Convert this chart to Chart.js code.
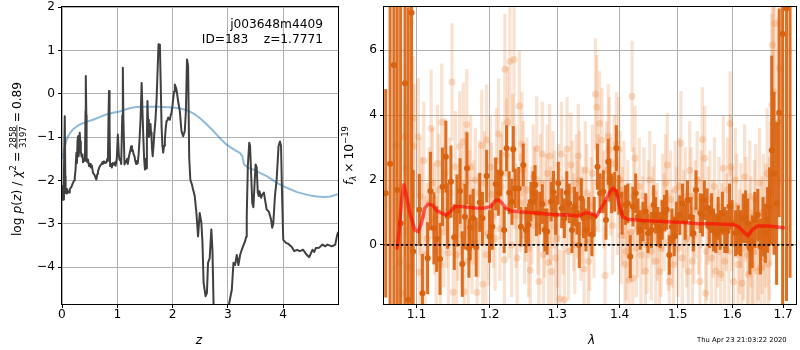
<!DOCTYPE html>
<html>
<head>
<meta charset="utf-8">
<script src="https://cdn.jsdelivr.net/npm/chart.js@4.4.0/dist/chart.umd.min.js"></script>
<style>
  html, body { margin: 0; padding: 0; background: #fff; }
  #wrap { position: relative; width: 800px; height: 350px; }
  #wrap canvas { position: absolute; left: 0; top: 0; }
</style>
</head>
<body>
<div id="wrap">
  <canvas id="pzChart" width="800" height="350"></canvas>
  <canvas id="specChart" width="800" height="350"></canvas>
</div>
<script>
// ---- p(z) panel ----
const zGrid = [
  0.00, 0.01, 0.02, 0.035, 0.05, 0.06, 0.065, 0.08, 0.09, 0.11,
  0.13, 0.14, 0.17, 0.20, 0.22, 0.23, 0.245, 0.26, 0.27, 0.28,
  0.29, 0.30, 0.31, 0.32, 0.33, 0.34, 0.355, 0.37, 0.38, 0.40,
  0.415, 0.425, 0.43, 0.44, 0.445, 0.46, 0.47, 0.49, 0.51, 0.52,
  0.54, 0.56, 0.59, 0.62, 0.64, 0.65, 0.67, 0.69, 0.71, 0.73,
  0.74, 0.76, 0.78, 0.80, 0.82, 0.83, 0.84, 0.85, 0.86, 0.87,
  0.89, 0.90, 0.92, 0.94, 0.96, 0.97, 0.99, 1.01, 1.03, 1.04,
  1.06, 1.07, 1.09, 1.10, 1.11, 1.13, 1.15, 1.16, 1.18, 1.19,
  1.21, 1.225, 1.24, 1.25, 1.265, 1.28, 1.295, 1.31, 1.325, 1.34,
  1.355, 1.37, 1.385, 1.40, 1.42, 1.44, 1.455, 1.47, 1.485, 1.50,
  1.52, 1.535, 1.545, 1.555, 1.57, 1.585, 1.60, 1.61, 1.62, 1.63,
  1.64, 1.655, 1.67, 1.69, 1.71, 1.73, 1.745, 1.77, 1.785, 1.80,
  1.815, 1.83, 1.845, 1.86, 1.875, 1.89, 1.905, 1.92, 1.935, 1.95,
  1.965, 1.98, 1.995, 2.01, 2.025, 2.04, 2.07, 2.10, 2.13, 2.16,
  2.19, 2.22, 2.24, 2.26, 2.28, 2.30, 2.32, 2.35, 2.37, 2.40,
  2.43, 2.46, 2.49, 2.52, 2.54, 2.56, 2.595, 2.62, 2.64, 2.67,
  2.70, 2.72, 2.74, 2.78, 2.90, 3.00, 3.02, 3.07, 3.10, 3.13,
  3.16, 3.19, 3.22, 3.25, 3.28, 3.31, 3.33, 3.34, 3.36, 3.385,
  3.40, 3.44, 3.46, 3.50, 3.52, 3.54, 3.56, 3.57, 3.60, 3.62,
  3.65, 3.70, 3.74, 3.78, 3.80, 3.82, 3.85, 3.88, 3.915, 3.94,
  3.96, 3.98, 4.00, 4.05, 4.10, 4.15, 4.20, 4.25, 4.30, 4.36,
  4.42, 4.47, 4.50, 4.53, 4.56, 4.59, 4.65, 4.71, 4.76, 4.80,
  4.88, 4.94, 4.97, 4.99
];
const logPz = [
  -2.45, -2.13, -2.44, -1.90, -0.52, -1.90, -2.29, -2.20, -2.30, -2.25,
  -2.28, -2.20, -2.15, -2.05, -2.00, -1.94, -1.75, -1.36, -1.60, -1.10,
  -0.98, -1.44, -1.30, -0.90, -1.10, -1.33, -1.45, -1.40, -1.58, -1.50,
  -1.55, -0.40, 0.41, -0.50, -1.52, -1.58, -1.52, -1.67, -1.62, -1.70,
  -1.66, -1.82, -1.88, -1.98, -1.85, -1.80, -1.71, -1.66, -1.63, -1.58,
  -1.62, -1.56, -1.60, -1.59, -1.50, -1.55, -0.60, 0.06, -0.80, -1.67,
  -1.62, -1.70, -1.60, -1.64, -1.58, -1.66, -1.50, -0.94, -1.45, -1.52,
  -1.55, -1.62, -0.50, 0.60, -0.60, -1.63, -1.55, -1.58, -1.50, -1.62,
  -1.45, -1.36, -1.28, -1.21, -1.32, -1.30, -1.40, -1.44, -1.55, -1.62,
  -1.55, -1.60, -1.40, -1.10, -0.60, 0.25, -0.40, -1.00, -1.50, -1.75,
  -1.72, -1.00, -0.17, -0.60, -1.00, -0.85, -0.70, -0.90, -1.06, -1.30,
  -1.44, -1.20, -0.90, -0.60, -0.13, 0.60, 1.14, 1.13, 0.20, -0.75,
  -1.20, -1.36, -1.20, -1.05, -0.80, -0.63, -0.62, -0.55, -0.58, -0.60,
  -0.50, -0.44, -0.30, -0.13, 0.05, 0.21, 0.10, -0.18, -0.40, -0.86,
  -0.98, -0.86, -0.40, 0.79, 0.64, -1.48, -1.98, -2.10, -2.21, -2.36,
  -2.75, -3.29, -2.75, -2.98, -3.44, -4.36, -4.67, -4.60, -3.90, -3.80,
  -3.13, -3.60, -4.85, -5.60, -6.00, -5.40, -4.85, -4.52, -3.90, -3.95,
  -3.72, -3.95, -3.72, -3.60, -3.50, -3.40, -3.30, -2.83, -1.67, -1.13,
  -1.20, -2.52, -2.62, -1.63, -1.70, -2.29, -2.36, -2.25, -2.40, -2.33,
  -2.28, -2.67, -2.72, -2.90, -3.09, -3.00, -2.36, -2.00, -1.21, -1.10,
  -1.20, -2.40, -3.37, -3.44, -3.47, -3.53, -3.63, -3.60, -3.63, -3.60,
  -3.71, -3.77, -3.68, -3.60, -3.65, -3.56, -3.55, -3.48, -3.52, -3.48,
  -3.52, -3.48, -3.29, -3.20
];
// smooth prior curve
const zPrior = [
  0.00, 0.02, 0.05, 0.08, 0.11, 0.15, 0.20, 0.26, 0.32, 0.44,
  0.56, 0.68, 0.80, 0.92, 1.04, 1.16, 1.28, 1.40, 1.52, 1.64,
  1.77, 1.90, 2.01, 2.14, 2.26, 2.38, 2.49, 2.61, 2.73, 2.85,
  2.97, 3.06, 3.15, 3.22, 3.26, 3.29, 3.34, 3.39, 3.48, 3.57,
  3.70, 3.80, 3.89, 3.98, 4.07, 4.16, 4.25, 4.37, 4.49, 4.61,
  4.73, 4.85, 4.99
];
const logPrior = [
  -1.50, -1.40, -1.24, -1.08, -0.98, -0.90, -0.82, -0.76, -0.71, -0.65,
  -0.60, -0.54, -0.48, -0.44, -0.41, -0.36, -0.32, -0.30, -0.30, -0.30,
  -0.30, -0.31, -0.32, -0.34, -0.38, -0.46, -0.56, -0.70, -0.85, -1.02,
  -1.17, -1.25, -1.32, -1.37, -1.44, -1.63, -1.68, -1.72, -1.76, -1.82,
  -1.90, -1.98, -2.06, -2.12, -2.17, -2.22, -2.27, -2.31, -2.35, -2.37,
  -2.38, -2.37, -2.32
];
const zTicks = [0, 1, 2, 3, 4];
const pzTicks = [2, 1, 0, -1, -2, -3, -4];

// ---- spectrum panel (flux in 1e-19) ----
const lamDark = [
  1.0605, 1.066, 1.0708, 1.075, 1.0794, 1.085, 1.0891, 1.0935, 1.0956, 1.1036,
  1.1077, 1.1146, 1.1183, 1.1229, 1.1266, 1.1311, 1.1344, 1.139, 1.1413, 1.1459,
  1.1504, 1.1541, 1.1583, 1.1614, 1.1651, 1.1679, 1.1706, 1.1724, 1.1766, 1.1807,
  1.1858, 1.1895, 1.1955, 1.1996, 1.2035, 1.2084, 1.2123, 1.2157, 1.2206, 1.2241,
  1.228, 1.232, 1.2339, 1.2368, 1.2418, 1.2452, 1.2486, 1.2526, 1.2565, 1.2599,
  1.2633, 1.2663, 1.2683, 1.2732, 1.2772, 1.281, 1.2845, 1.2907, 1.2941, 1.2976,
  1.3016, 1.307, 1.3111, 1.3149, 1.3186, 1.3229, 1.327, 1.3308, 1.3345, 1.3377,
  1.3413, 1.3451, 1.3493, 1.3547, 1.3584, 1.3636, 1.368, 1.3732, 1.3775, 1.3812,
  1.3839, 1.3866, 1.3918, 1.3945, 1.3987, 1.4041, 1.4098, 1.4137, 1.4178, 1.4223,
  1.4269, 1.4308, 1.4349, 1.4394, 1.444, 1.448, 1.4538, 1.4577, 1.4612, 1.4651,
  1.4692, 1.4726, 1.4766, 1.4805, 1.4851, 1.4897, 1.4937, 1.4976, 1.5037, 1.5085,
  1.5134, 1.5176, 1.5238, 1.528, 1.533, 1.5408, 1.545, 1.5482, 1.5531, 1.5573,
  1.5615, 1.5652, 1.5696, 1.5738, 1.5775, 1.5817, 1.5861, 1.5908, 1.5952, 1.6,
  1.6066, 1.6116, 1.6162, 1.6213, 1.6259, 1.6303, 1.6342, 1.6386, 1.6438, 1.6496,
  1.6548, 1.6598, 1.6645, 1.6689, 1.6728, 1.6772, 1.6818, 1.6869, 1.692, 1.699,
  1.7068, 1.714
];
const fluxDark = [
  1.59, 2.5, 5.54, 1.69, 0.67, 4.98, -1.69, 7.15, -0.2, 1.08,
  -1.49, -0.41, 1.66, 0.51, 0.18, -0.43, 1.79, 2.72, 0.89, 1.95,
  0.24, 1.06, 1.66, -0.59, 0.87, 2.36, -0.1, 0.54, 0.82, -0.07,
  1.31, 0.82, 2.12, 0.26, 0.56, 1.88, 1.61, 2.21, 0.46, 2.98,
  1.61, 1.33, 2.95, 1.74, 1.74, 0.56, 2.46, 0.46, 0.62, 1.33,
  1.61, 1.85, 0.98, 0.98, 1.26, 0.46, 0.41, 1.33, 1.62, 0.92,
  1.90, 1.13, 0.82, 1.61, 1.28, 0.46, 1.18, 0.98, 0.0, 1.44,
  0.82, 0.46, 0.87, 0.31, 0.87, 2.41, 1.59, 1.64, 0.77, 2.56,
  2.0, 1.59, 1.64, 2.98, 1.54, 0.98, 1.23, 1.28, -0.36, 1.18,
  1.59, 0.87, 0.46, 0.72, 1.03, 0.36, 0.46, 1.23, 0.92, 0.56,
  0.46, 0.77, 0.98, 1.08, -0.31, 0.56, 0.26, 0.77, 0.92, 1.28,
  0.72, 1.38, 0.87, 0.36, 1.69, 0.98, 0.92, 1.38, 1.13, 0.56,
  0.98, 0.46, 0.36, 0.82, 0.46, 0.98, 0.46, 0.41, 1.18, 0.67,
  0.36, 0.46, 0.36, 0.82, 0.87, 0.67, -0.1, 0.1, 0.77, 0.92,
  -0.05, 0.56, 0.36, 0.77, 1.18, 2.92, 2.21, 1.28, 4.07, 6.5,
  7.28, 8.0
];
const errDark = [
  3.2, 9, 9, 9, 9, 9, 9, 9, 2.5, 1.1,
  1.2, 1.1, 1.2, 1.1, 1.0, 1.1, 1.2, 1.1, 1.0, 1.1,
  1.0, 1.1, 1.0, 1.0, 1.0, 1.1, 0.9, 1.0, 0.9, 0.9,
  0.9, 0.8, 0.8, 0.8, 0.7, 0.8, 0.7, 0.7, 0.7, 0.7,
  0.65, 0.7, 0.7, 0.6, 0.65, 0.6, 0.65, 0.7, 0.65, 0.6,
  0.65, 0.6, 0.7, 0.65, 0.6, 0.65, 0.7, 0.6, 0.65, 0.6,
  0.65, 0.6, 0.6, 0.65, 0.6, 0.7, 0.6, 0.65, 0.7, 0.6,
  0.6, 0.65, 0.6, 0.65, 0.6, 0.7, 0.6, 0.65, 0.6, 0.7,
  0.65, 0.6, 0.6, 0.7, 0.6, 0.65, 0.6, 0.6, 0.65, 0.6,
  0.6, 0.55, 0.6, 0.6, 0.55, 0.6, 0.55, 0.6, 0.55, 0.6,
  0.55, 0.6, 0.55, 0.6, 0.6, 0.55, 0.6, 0.55, 0.6, 0.6,
  0.55, 0.6, 0.6, 0.55, 0.6, 0.6, 0.65, 0.6, 0.6, 0.65,
  0.6, 0.65, 0.6, 0.65, 0.6, 0.65, 0.7, 0.65, 0.7, 0.7,
  0.7, 0.75, 0.7, 0.75, 0.8, 0.75, 0.8, 0.8, 0.85, 0.8,
  0.85, 0.9, 0.9, 1.0, 1.2, 2.9, 2.5, 2.5, 3.2, 9,
  9, 9
];
// single exposures: first pass
const lamLight = [
  1.0735, 1.078, 1.0815, 1.085, 1.0865, 1.090, 1.0918, 1.0956, 1.0968, 1.1022,
  1.1036, 1.107, 1.111, 1.1193, 1.121, 1.126, 1.1275, 1.1334, 1.136, 1.1425,
  1.1472, 1.149, 1.1518, 1.1555, 1.1579, 1.1628, 1.164, 1.1675, 1.1715, 1.175,
  1.182, 1.1855, 1.1886, 1.190, 1.1955, 1.1985, 1.2025, 1.2075, 1.2127, 1.2165,
  1.221, 1.2216, 1.2241, 1.2256, 1.229, 1.233, 1.2349, 1.238, 1.2427, 1.2467,
  1.2505, 1.254, 1.259, 1.2635, 1.2687, 1.272, 1.2772, 1.2805, 1.2866, 1.2884,
  1.2915, 1.2955, 1.300, 1.304, 1.3064, 1.311, 1.3153, 1.3212, 1.3255, 1.3295,
  1.3329, 1.337, 1.342, 1.3465, 1.351, 1.3555, 1.3605, 1.3625, 1.3669, 1.371,
  1.376, 1.3813, 1.3829, 1.3885, 1.3947, 1.3986, 1.4025, 1.407, 1.411, 1.416,
  1.4209, 1.422, 1.4258, 1.4305, 1.436, 1.441, 1.446, 1.451, 1.4565, 1.4615,
  1.468, 1.4735, 1.4815, 1.485, 1.490, 1.4955, 1.5005, 1.5056, 1.511, 1.519,
  1.524, 1.529, 1.535, 1.540, 1.5444, 1.5487, 1.5505, 1.555, 1.561, 1.567,
  1.573, 1.5785, 1.5835, 1.589, 1.5963, 1.5974, 1.603, 1.609, 1.6145, 1.619,
  1.624, 1.6295, 1.634, 1.638, 1.643, 1.648, 1.653, 1.658, 1.663, 1.668,
  1.6725, 1.6772, 1.6786, 1.6805, 1.6837, 1.690, 1.6932
];
const fluxLight = [
  3.08, -0.54, -1.5, 3.33, 2.36, -0.67, 6.87, 3.90, 3.05, 3.33,
  -0.84, 0.9, -0.3, 3.59, 1.9, -0.2, 2.51, 3.78, 0.4, -0.25,
  5.02, -1.46, 2.41, 0.6, 3.03, 3.19, -1.44, 3.71, 1.2, 0.1,
  -1.46, 1.6, 3.06, -1.21, 3.23, 0.35, 1.55, 0.2, 3.42, 1.8,
  -0.46, 5.41, 2.80, 3.79, 5.65, 2.95, 5.71, 0.9, 4.28, 3.11,
  0.3, 1.7, -0.77, 2.1, 2.97, -1.13, 2.80, 0.5, -0.53, 2.74,
  -0.82, 1.4, 0.2, -1.66, 2.80, -1.69, 2.95, 2.46, 0.7, 1.9,
  2.74, 0.4, -0.74, 1.6, 0.1, 2.2, 4.65, 4.24, 3.74, 3.23,
  -0.94, 3.35, 2.94, 0.6, 3.11, 2.95, 0.3, 1.7, -0.2, -1.08,
  4.58, -1.03, 2.67, 0.5, -0.31, 1.5, 0.0, 2.0, 0.9, -0.5,
  -0.82, 1.3, 2.46, -1.13, 0.2, 1.7, -0.1, 3.13, 0.8, -0.82,
  1.5, 0.3, 2.0, -1.13, 3.25, 2.67, -1.49, 0.9, -0.4, 1.8,
  0.2, -0.9, 2.36, 0.7, 3.74, 2.41, -1.13, 1.2, 0.1, -1.18,
  2.1, -0.3, 1.5, -0.62, 0.9, -0.8, 1.9, 0.3, -0.4, 2.2,
  0.5, 4.31, 6.17, 4.72, 6.82, 3.79, 5.44
];
const errLight = [
  2.4, 2.4, 2.2, 2.2, 2.0, 2.0, 2.0, 1.9, 1.9, 1.8,
  1.8, 1.8, 1.8, 1.8, 1.7, 1.7, 1.8, 1.8, 1.7, 1.7,
  1.8, 1.7, 1.7, 1.7, 1.7, 1.8, 1.7, 1.7, 1.7, 1.6,
  1.6, 1.6, 1.7, 1.6, 1.7, 1.6, 1.6, 1.6, 1.7, 1.6,
  1.6, 1.7, 1.7, 1.7, 2.0, 1.7, 2.0, 1.6, 1.7, 1.6,
  1.5, 1.6, 1.5, 1.6, 1.6, 1.5, 1.6, 1.5, 1.5, 1.6,
  1.5, 1.5, 1.5, 1.5, 1.6, 1.5, 1.6, 1.6, 1.5, 1.5,
  1.6, 1.5, 1.5, 1.5, 1.5, 1.5, 1.7, 1.6, 1.6, 1.6,
  1.5, 1.6, 1.6, 1.5, 1.6, 1.6, 1.5, 1.5, 1.5, 1.5,
  1.7, 1.5, 1.6, 1.5, 1.5, 1.5, 1.5, 1.5, 1.5, 1.5,
  1.5, 1.5, 1.6, 1.5, 1.5, 1.5, 1.5, 1.6, 1.5, 1.5,
  1.5, 1.5, 1.5, 1.5, 1.6, 1.6, 1.5, 1.5, 1.5, 1.5,
  1.5, 1.5, 1.6, 1.5, 1.6, 1.6, 1.6, 1.6, 1.6, 1.6,
  1.6, 1.6, 1.7, 1.7, 1.7, 1.7, 1.7, 1.8, 1.9, 2.0,
  2.2, 2.8, 3.2, 3.2, 3.6, 3.2, 3.6
];
// single exposures: second pass
const lamLightB = [
  1.1045, 1.1095, 1.114, 1.1165, 1.1235, 1.1295, 1.1315, 1.1375, 1.140, 1.1445,
  1.1535, 1.1595, 1.161, 1.166, 1.1695, 1.173, 1.1775, 1.1795, 1.184, 1.1925,
  1.1945, 1.2005, 1.205, 1.2095, 1.2145, 1.2185, 1.2275, 1.2315, 1.2365, 1.2395,
  1.2445, 1.2485, 1.2525, 1.2565, 1.2615, 1.2655, 1.2705, 1.2745, 1.279, 1.2825,
  1.2845, 1.2895, 1.2935, 1.2975, 1.302, 1.309, 1.3135, 1.3175, 1.3235, 1.3275,
  1.3315, 1.335, 1.3395, 1.344, 1.349, 1.3535, 1.358, 1.365, 1.3735, 1.3785,
  1.3855, 1.391, 1.3965, 1.4005, 1.4045, 1.409, 1.4135, 1.418, 1.4235, 1.428,
  1.433, 1.4385, 1.4435, 1.4485, 1.4535, 1.459, 1.464, 1.4705, 1.476, 1.4785,
  1.4835, 1.4875, 1.4925, 1.4985, 1.503, 1.508, 1.5135, 1.516, 1.5215, 1.5265,
  1.5315, 1.5375, 1.5425, 1.5525, 1.5585, 1.564, 1.5695, 1.5755, 1.581, 1.586,
  1.5915, 1.594, 1.600, 1.606, 1.6115, 1.617, 1.6215, 1.6265, 1.6315, 1.636,
  1.6405, 1.6455, 1.6505, 1.6555, 1.6605, 1.6655, 1.6705, 1.6745
];
const fluxLightB = [
  1.5, 2.6, 0.2, 1.3, 0.8, 1.7, -0.6, 2.2, 1.0, 1.6,
  -0.3, 1.3, 0.3, 1.9, -0.5, 2.4, 1.0, 2.0, 0.6, 1.9,
  -0.3, 2.4, 0.9, 2.6, 0.5, 2.2, 1.2, 0.0, 2.1, -0.4,
  1.3, 2.3, 1.0, -0.1, 0.9, 1.5, 0.6, 1.9, -0.3, 1.3,
  2.2, 0.9, 2.0, -0.4, 1.6, 0.6, 1.3, -0.2, 1.7, 0.0,
  1.1, 2.0, 0.9, 2.3, -0.5, 1.2, 0.5, 1.9, 1.4, 2.3,
  1.8, 2.5, 1.2, 2.0, 0.9, -0.6, 1.1, 0.4, 1.5, -0.1,
  1.8, 0.6, -0.8, 1.1, -0.2, 1.6, 0.4, -0.1, 0.7, 1.9,
  0.1, 1.4, -0.6, 0.9, 1.8, -0.4, 1.5, 0.2, 2.3, -0.5,
  1.1, 0.6, 1.4, -0.2, 1.4, 0.5, -0.8, 1.2, 0.4, -0.5,
  1.7, -0.2, 0.8, 2.0, -0.6, 0.9, -0.1, 1.1, -0.9, 0.4,
  -0.2, 1.4, 0.0, -0.7, 1.0, 0.6, -0.6, 1.6
];
const errLightB = [
  1.8, 1.8, 1.7, 1.7, 1.7, 1.7, 1.7, 1.7, 1.7, 1.7,
  1.6, 1.6, 1.6, 1.6, 1.6, 1.6, 1.6, 1.6, 1.6, 1.6,
  1.6, 1.6, 1.6, 1.6, 1.6, 1.6, 1.6, 1.6, 1.6, 1.5,
  1.5, 1.5, 1.5, 1.5, 1.5, 1.5, 1.5, 1.5, 1.5, 1.5,
  1.5, 1.5, 1.5, 1.5, 1.5, 1.5, 1.5, 1.5, 1.5, 1.5,
  1.5, 1.5, 1.5, 1.5, 1.5, 1.5, 1.5, 1.5, 1.5, 1.5,
  1.5, 1.5, 1.5, 1.5, 1.5, 1.5, 1.5, 1.5, 1.5, 1.5,
  1.5, 1.5, 1.5, 1.5, 1.5, 1.5, 1.5, 1.5, 1.5, 1.5,
  1.5, 1.5, 1.5, 1.5, 1.5, 1.5, 1.5, 1.5, 1.5, 1.5,
  1.5, 1.5, 1.5, 1.5, 1.5, 1.5, 1.5, 1.5, 1.5, 1.5,
  1.6, 1.6, 1.6, 1.6, 1.6, 1.6, 1.6, 1.6, 1.7, 1.7,
  1.7, 1.7, 1.7, 1.8, 1.8, 1.9, 2.0, 2.2
];
// best-fit template
const lamModel = [
  1.075, 1.0775, 1.0807, 1.0836, 1.0862, 1.0913, 1.0978, 1.1021, 1.1065, 1.1108,
  1.1152, 1.1214, 1.1263, 1.133, 1.1398, 1.1451, 1.151, 1.160, 1.1687, 1.180,
  1.1901, 1.201, 1.2084, 1.2133, 1.2181, 1.223, 1.2304, 1.242, 1.2675, 1.2924,
  1.3173, 1.3329, 1.3435, 1.3515, 1.3621, 1.368, 1.3759, 1.3839, 1.3892, 1.3945,
  1.3987, 1.405, 1.4131, 1.4394, 1.4735, 1.5084, 1.5376, 1.5652, 1.6035, 1.6126,
  1.6218, 1.6304, 1.6386, 1.6486, 1.6708, 1.701
];
const fluxModel = [
  -0.1, 0.46, 1.38, 1.85, 1.59, 0.98, 0.46, 0.41, 0.67, 1.13,
  1.26, 1.22, 1.06, 0.98, 0.92, 1.03, 1.18, 1.18, 1.16, 1.14,
  1.13, 1.18, 1.38, 1.38, 1.28, 1.13, 1.05, 1.02, 0.98, 0.94,
  0.92, 0.89, 0.98, 0.98, 0.89, 1.08, 1.33, 1.64, 1.74, 1.66,
  1.28, 0.87, 0.79, 0.75, 0.72, 0.69, 0.65, 0.65, 0.62, 0.56,
  0.41, 0.28, 0.46, 0.58, 0.58, 0.53
];
const lamTicks = [1.1, 1.2, 1.3, 1.4, 1.5, 1.6, 1.7];
const fluxTicks = [0, 2, 4, 6];

// ---- helpers ----
const FONT = '"DejaVu Sans", sans-serif';
const SIZE = 12.2;
const SMALL = 8.5;
const GRID = '#b0b0b0';

Chart.defaults.font.family = FONT;
Chart.defaults.font.size = SIZE;
Chart.defaults.color = '#000';

const minus = (v) => (v < 0 ? '\u2212' + Math.abs(v) : String(v));
const pairs = (xs, ys) => xs.map((x, i) => ({ x, y: ys[i] }));
const spans = (xs, ys, es) => xs.map((x, i) => ({ x, y: [ys[i] - es[i], ys[i] + es[i]] }));

const setTicks = (vals) => (scale) => { scale.ticks = vals.map(v => ({ value: v })); };
const setSize = (w, h) => (scale) => {
  if (w != null) scale.width = w;
  if (h != null) scale.height = h;
  scale.paddingLeft = scale.paddingRight = scale.paddingTop = scale.paddingBottom = 0;
};

function axis(extra) {
  return Object.assign({
    bounds: 'data',
    border: { display: false },
    grid: { color: GRID, lineWidth: 1, tickColor: '#000', tickLength: 4, tickWidth: 1 },
  }, extra);
}

// draws a run of text pieces along the baseline, starting at x
function drawRuns(ctx, runs, x, y) {
  runs.forEach(r => {
    if (r.gap) { x += r.gap; return; }
    if (r.frac) {
      ctx.font = `${SMALL}px ${FONT}`;
      const w = Math.max(ctx.measureText(r.frac[0]).width, ctx.measureText(r.frac[1]).width) + 2;
      ctx.textAlign = 'center';
      ctx.fillText(r.frac[0], x + w / 2, y - 5.5);
      ctx.fillText(r.frac[1], x + w / 2, y + 4.5);
      ctx.fillRect(x, y - 4.5, w, 0.8);
      ctx.textAlign = 'left';
      x += w;
      return;
    }
    ctx.font = r.f;
    ctx.fillText(r.t, x, y + (r.dy || 0));
    x += ctx.measureText(r.t).width;
  });
}
function runsWidth(ctx, runs) {
  let w = 0;
  runs.forEach(r => {
    if (r.gap) { w += r.gap; return; }
    if (r.frac) {
      ctx.font = `${SMALL}px ${FONT}`;
      w += Math.max(ctx.measureText(r.frac[0]).width, ctx.measureText(r.frac[1]).width) + 2;
      return;
    }
    ctx.font = r.f;
    w += ctx.measureText(r.t).width;
  });
  return w;
}

const N = `${SIZE}px ${FONT}`;
const I = `italic ${SIZE}px ${FONT}`;
const S = `${SMALL}px ${FONT}`;
const SI = `italic ${SMALL}px ${FONT}`;

const frame = {
  id: 'frame',
  afterDatasetsDraw(chart) {
    const { ctx, chartArea: a } = chart;
    ctx.save();
    ctx.strokeStyle = '#000';
    ctx.lineWidth = 1;
    ctx.strokeRect(Math.round(a.left) - 0.5, Math.round(a.top) - 0.5,
      Math.round(a.right - a.left) + 1, Math.round(a.bottom - a.top) + 1);
    ctx.restore();
  }
};

// ---- left: redshift PDF ----
const pzLabels = {
  id: 'pzLabels',
  afterDraw(chart) {
    const ctx = chart.ctx;
    ctx.save();
    ctx.fillStyle = '#000';
    ctx.textBaseline = 'alphabetic';

    ctx.font = N;
    ctx.textAlign = 'right';
    ctx.fillText('j003648m4409', 323, 28.3);
    ctx.fillText('ID=183    z=1.7771', 323, 43.3);

    ctx.font = I;
    ctx.textAlign = 'center';
    ctx.fillText('z', 199, 343.5);

    const runs = [
      { t: 'log', f: N }, { gap: 4 },
      { t: 'p', f: I }, { t: '(', f: N }, { t: 'z', f: I }, { t: ')', f: N }, { gap: 4 },
      { t: '/', f: N }, { gap: 4 },
      { t: '\u03c7', f: I }, { t: '2', f: S, dy: -5 }, { gap: 3 },
      { t: '=', f: N }, { gap: 3 },
      { frac: ['2858', '3197'] }, { gap: 3 },
      { t: '=', f: N }, { gap: 3 },
      { t: '0.89', f: N }
    ];
    ctx.textAlign = 'left';
    const w = runsWidth(ctx, runs);
    ctx.translate(21, 159);
    ctx.rotate(-Math.PI / 2);
    drawRuns(ctx, runs, -w / 2, 0);
    ctx.restore();
  }
};

new Chart(document.getElementById('pzChart'), {
  type: 'scatter',
  data: {
    datasets: [
      {
        data: pairs(zGrid, logPz),
        showLine: true, borderColor: '#404040', borderWidth: 2,
        borderJoinStyle: 'round', borderCapStyle: 'round',
        pointRadius: 0, clip: 0, order: 0
      },
      {
        data: pairs(zPrior, logPrior),
        showLine: true, borderColor: 'rgba(31,119,180,0.5)', borderWidth: 2,
        borderJoinStyle: 'round', pointRadius: 0, clip: 0, order: 1
      }
    ]
  },
  options: {
    responsive: false,
    animation: false,
    events: [],
    layout: { padding: { left: 0, right: 462, top: 7, bottom: 6 } },
    plugins: { legend: { display: false }, tooltip: { enabled: false } },
    scales: {
      x: axis({
        type: 'linear', min: 0, max: 4.99,
        afterBuildTicks: setTicks(zTicks), afterFit: setSize(null, 40),
        ticks: { padding: 0, autoSkip: false, maxRotation: 0, callback: minus }
      }),
      y: axis({
        type: 'linear', min: -4.85, max: 2,
        afterBuildTicks: setTicks(pzTicks), afterFit: setSize(62, null),
        ticks: { padding: 3, autoSkip: false, callback: minus }
      })
    }
  },
  plugins: [frame, pzLabels]
});

// ---- right: spectrum ----
const DARK = 'rgb(217,98,14)';
const DARK_BAR = 'rgba(217,98,14,0.9)';
const LIGHT = 'rgba(232,125,45,0.25)';
const LIGHT_BAR = 'rgba(232,125,45,0.22)';

const specLabels = {
  id: 'specLabels',
  afterDraw(chart) {
    const ctx = chart.ctx;
    ctx.save();
    ctx.fillStyle = '#000';
    ctx.textBaseline = 'alphabetic';

    ctx.font = I;
    ctx.textAlign = 'center';
    ctx.fillText('\u03bb', 591.5, 344);

    ctx.font = `6.8px ${FONT}`;
    ctx.textAlign = 'left';
    ctx.fillText('Thu Apr 23 21:03:22 2020', 697, 341.5);

    const runs = [
      { t: 'f', f: I }, { t: '\u03bb', f: SI, dy: 3 }, { gap: 3 },
      { t: '\u00d7', f: N }, { gap: 3 },
      { t: '10', f: N }, { t: '\u221219', f: S, dy: -5 }
    ];
    const w = runsWidth(ctx, runs);
    ctx.translate(353, 155.5);
    ctx.rotate(-Math.PI / 2);
    drawRuns(ctx, runs, -w / 2, 0);
    ctx.restore();
  }
};

const lightPts = pairs(lamLight, fluxLight).concat(pairs(lamLightB, fluxLightB));
const lightBars = spans(lamLight, fluxLight, errLight).concat(spans(lamLightB, fluxLightB, errLightB));

new Chart(document.getElementById('specChart'), {
  type: 'scatter',
  data: {
    datasets: [
      {
        type: 'scatter', data: [{ x: 1.05, y: 0 }, { x: 1.75, y: 0 }],
        showLine: true, borderColor: '#000', borderWidth: 1.8, borderDash: [2.5, 2.2],
        pointRadius: 0, clip: 0, order: 0
      },
      {
        type: 'scatter', data: pairs(lamModel, fluxModel),
        showLine: true, borderColor: 'rgba(255,0,0,0.6)', borderWidth: 3.5,
        borderJoinStyle: 'round', borderCapStyle: 'round',
        pointRadius: 0, clip: 0, order: 1
      },
      {
        type: 'scatter', data: pairs(lamDark, fluxDark),
        pointRadius: 3, pointBorderWidth: 0, pointBackgroundColor: DARK,
        clip: 0, order: 2
      },
      {
        type: 'bar', data: spans(lamDark, fluxDark, errDark),
        backgroundColor: DARK_BAR, borderWidth: 0, barThickness: 2.4, grouped: false,
        clip: 0, order: 3
      },
      {
        type: 'scatter', data: lightPts,
        pointRadius: 3.5, pointBorderWidth: 0, pointBackgroundColor: LIGHT,
        clip: 0, order: 4
      },
      {
        type: 'bar', data: lightBars,
        backgroundColor: LIGHT_BAR, borderWidth: 0, barThickness: 2.6, grouped: false,
        clip: 0, order: 5
      }
    ]
  },
  options: {
    responsive: false,
    animation: false,
    events: [],
    layout: { padding: { left: 350, right: 2, top: 7, bottom: 6 } },
    plugins: { legend: { display: false }, tooltip: { enabled: false } },
    scales: {
      x: axis({
        type: 'logarithmic', min: 1.0583, max: 1.7262, offset: false,
        grid: { color: GRID, lineWidth: 1, tickColor: '#000', tickLength: 4, tickWidth: 1, offset: false },
        afterBuildTicks: setTicks(lamTicks), afterFit: setSize(null, 40),
        ticks: { padding: 0, autoSkip: false, maxRotation: 0, callback: (v) => Number(v).toFixed(1) }
      }),
      y: axis({
        type: 'linear', min: -1.82, max: 7.33,
        afterBuildTicks: setTicks(fluxTicks), afterFit: setSize(34, null),
        ticks: { padding: 3, autoSkip: false, callback: minus }
      })
    }
  },
  plugins: [frame, specLabels]
});
</script>
</body>
</html>
